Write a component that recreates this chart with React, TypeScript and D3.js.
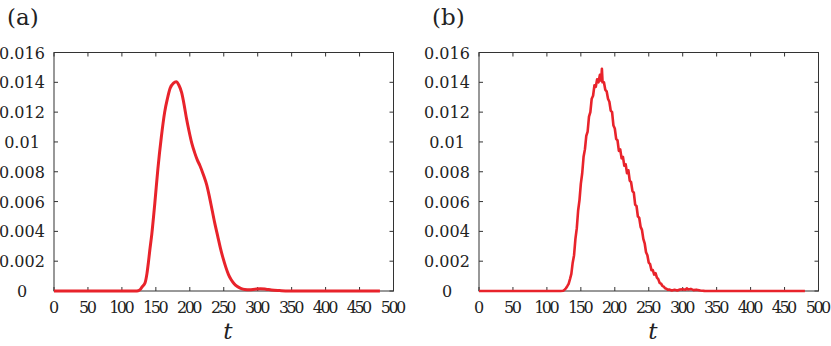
import React from 'react';
import * as d3 from 'd3';

// panel (a): smoothed density
const tA = [0, 100, 120, 124, 127, 130, 134, 137, 139, 141, 144, 148.5, 153, 158, 163, 167, 171, 176, 180, 184, 188, 192, 195, 199, 203, 207, 211, 215, 220, 225, 229, 233, 237, 241, 245, 249, 253, 257, 261, 265, 270, 275, 281, 288, 296, 304, 312, 320, 332, 345, 400, 480];
const yA = [0, 0, 0, 0.00002, 0.0001, 0.0003, 0.00054, 0.0012, 0.0019, 0.0027, 0.0038, 0.0059, 0.0082, 0.0103, 0.012, 0.0129, 0.0136, 0.01395, 0.01403, 0.0138, 0.0133, 0.0124, 0.0116, 0.0107, 0.0099, 0.0093, 0.0088, 0.0084, 0.0078, 0.0071, 0.0063, 0.0054, 0.0045, 0.0037, 0.0029, 0.0022, 0.0016, 0.0011, 0.00075, 0.0005, 0.0003, 0.00018, 0.0001, 0.00008, 0.00012, 0.00015, 0.00012, 0.00007, 0.00003, 0, 0, 0];

// panel (b): raw (noisy) density
const tB = [0, 50, 100, 120, 124, 126, 128, 130, 132, 134, 136, 138, 140, 142, 144, 146, 148, 150, 152, 154, 156, 158, 160, 162, 164, 166, 168, 170, 172, 174, 176, 178, 180, 181, 182, 184, 186, 188, 190, 192, 194, 196, 198, 200, 202, 204, 206, 208, 210, 212, 214, 216, 218, 220, 222, 224, 226, 228, 230, 232, 234, 236, 238, 240, 242, 244, 246, 248, 250, 252, 254, 256, 258, 260, 262, 264, 266, 268, 270, 272, 274, 276, 278, 280, 284, 288, 292, 296, 300, 304, 306, 308, 312, 316, 320, 326, 332, 340, 400, 480];
const yB = [0, 0, 0, 0, 0.00002, 0.00009, 0.00018, 0.00032, 0.00048, 0.0008, 0.00115, 0.0019, 0.0024, 0.0035, 0.0042, 0.0054, 0.0061, 0.0072, 0.0079, 0.009, 0.0095, 0.0104, 0.0107, 0.0117, 0.012, 0.0129, 0.0131, 0.0138, 0.0137, 0.0142, 0.014, 0.0145, 0.0141, 0.0149, 0.014, 0.014, 0.0135, 0.0134, 0.0129, 0.0127, 0.0121, 0.012, 0.0111, 0.0109, 0.0102, 0.0101, 0.0094, 0.0095, 0.0089, 0.009, 0.0084, 0.0085, 0.0079, 0.0081, 0.0074, 0.0073, 0.0067, 0.0066, 0.0058, 0.0057, 0.005, 0.0049, 0.0043, 0.0041, 0.0035, 0.0032, 0.0026, 0.0024, 0.0019, 0.0018, 0.0014, 0.0014, 0.0011, 0.0012, 0.0009, 0.0008, 0.00055, 0.0005, 0.00035, 0.0003, 0.00018, 0.00015, 0.00008, 0.0001, 0.00004, 0.00008, 0.00003, 0.0001, 0.00012, 0.00008, 0.00018, 0.0001, 0.00014, 0.00006, 0.00009, 0.00003, 0.00001, 0, 0, 0];

const xTicks = [0, 50, 100, 150, 200, 250, 300, 350, 400, 450, 500];
const yTicks = [0, 0.002, 0.004, 0.006, 0.008, 0.01, 0.012, 0.014, 0.016];
const yTickLabels = ['0', '0.002', '0.004', '0.006', '0.008', '0.01', '0.012', '0.014', '0.016'];

const font = "'DejaVu Serif', serif";
const red = '#e8232b';
const axisColor = '#333';

const Panel = ({ left, label, ts, ys, smooth, strokeW }) => {
  const top = 52.5;
  const bottom = 291;
  const right = left + 339.5;

  const x = d3.scaleLinear().domain([0, 500]).range([left, right]);
  const y = d3.scaleLinear().domain([0, 0.016]).range([bottom, top]);

  const pts = ts.map((t, i) => [t, ys[i]]);
  const line = d3.line()
    .x(d => x(d[0]))
    .y(d => y(d[1]))
    .curve(smooth ? d3.curveMonotoneX : d3.curveLinear);

  const tl = 4;
  return (
    <g>
      <text x={left - 47} y={25} fontFamily={font} fontSize={23} fill="#222">{label}</text>
      <rect x={left} y={top} width={right - left} height={bottom - top} fill="none" stroke={axisColor} strokeWidth={1} />
      {xTicks.map(t => (
        <g key={'x' + t}>
          <line x1={x(t)} x2={x(t)} y1={bottom} y2={bottom - tl} stroke={axisColor} />
          <line x1={x(t)} x2={x(t)} y1={top} y2={top + tl} stroke={axisColor} />
          <text x={x(t)} y={313} textAnchor="middle" fontFamily={font} fontSize={16} textLength={t >= 100 ? 25.5 : t > 0 ? 18 : undefined} fill="#222">{t}</text>
        </g>
      ))}
      {yTicks.map((v, i) => (
        <g key={'y' + i}>
          <line x1={left} x2={left + tl} y1={y(v)} y2={y(v)} stroke={axisColor} />
          <line x1={right} x2={right - tl} y1={y(v)} y2={y(v)} stroke={axisColor} />
          <text x={left - 32} y={y(v) + 6} textAnchor="middle" fontFamily={font} fontSize={16} fill="#222">{yTickLabels[i]}</text>
        </g>
      ))}
      <path d={line(pts)} fill="none" stroke={red} strokeWidth={strokeW} strokeLinejoin="round" />
      <text x={(left + right) / 2 + 4} y={339} textAnchor="middle" fontFamily={font} fontStyle="italic" fontSize={23} fill="#222">t</text>
    </g>
  );
};

export default function App() {
  return (
    <svg width={831} height={346} style={{ position: 'absolute', left: 0, top: 0, background: '#fff' }}>
      <rect width={831} height={346} fill="#fff" />
      <Panel left={54} label="(a)" ts={tA} ys={yA} smooth={true} strokeW={3} />
      <Panel left={479} label="(b)" ts={tB} ys={yB} smooth={false} strokeW={2.6} />
    </svg>
  );
}
